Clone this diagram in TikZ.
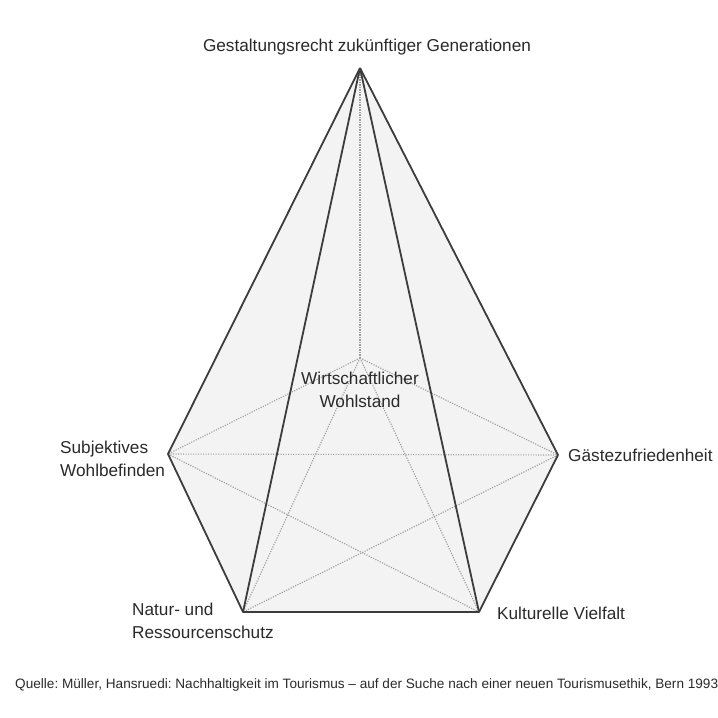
\documentclass[tikz,border=0pt]{standalone}
\usepackage{fontspec}
\setmainfont{Liberation Sans}
\definecolor{edgegray}{HTML}{3C3C3C}
\definecolor{textgray}{HTML}{2A2A2A}
\definecolor{facegray}{HTML}{F3F3F3}
\definecolor{dotgray}{HTML}{9E9E9E}
\begin{document}
\frenchspacing
\begin{tikzpicture}[x=1pt,y=-1pt,
  edge/.style={draw=edgegray,line width=1.8pt,line join=round},
  hidden/.style={draw=dotgray,line width=1.1pt,dash pattern=on 1.2pt off 1.3pt},
  corner/.style={text=textgray,font=\fontsize{17.2}{23.5}\selectfont,align=left,inner sep=0pt}]
\useasboundingbox (0,0) rectangle (718,718);

\coordinate (apex) at (360,68);
\coordinate (wohl) at (360,358);
\coordinate (subj) at (168,454);
\coordinate (gast) at (558,455);
\coordinate (natur) at (243,612);
\coordinate (kultur) at (479,612);

%\draw[red] (subj) -- (gast);
\fill[color=facegray] (apex) -- (gast) -- (kultur) -- (natur) -- (subj) -- cycle;

\draw[hidden] (wohl) -- (apex);
\draw[hidden] (wohl) -- (subj);
\draw[hidden] (wohl) -- (gast);
\draw[hidden] (wohl) -- (natur);
\draw[hidden] (wohl) -- (kultur);
\draw[hidden] (subj) -- (gast);
\draw[hidden] (subj) -- (kultur);
\draw[hidden] (gast) -- (natur);

\draw[edge] (apex) -- (subj);
\draw[edge] (apex) -- (natur);
\draw[edge] (apex) -- (kultur);
\draw[edge] (apex) -- (gast);
\draw[edge] (subj) -- (natur) -- (kultur) -- (gast);

\node[corner,anchor=center] (tgen) at (367,47) {Gestaltungsrecht zukünftiger Generationen};
\node[corner,align=center,anchor=center] (twohl) at (360,390) {Wirtschaftlicher\\Wohlstand};
\node[corner,anchor=west] (tsubj) at (60,459) {Subjektives\\Wohlbefinden};
\node[corner,anchor=west] (tgast) at (568,455) {Gästezufriedenheit};
\node[corner,anchor=west] (tnatur) at (132,621) {Natur- und\\Ressourcenschutz};
\node[corner,anchor=west] (tkultur) at (497,613) {Kulturelle Vielfalt};

\node[text=textgray,font=\fontsize{13.6}{16}\selectfont,anchor=west,inner sep=0pt] (quelle) at (15,685)
  {Quelle: Müller, Hansruedi: Nachhaltigkeit im Tourismus – auf der Suche nach einer neuen Tourismusethik, Bern 1993};
\end{tikzpicture}
\end{document}
